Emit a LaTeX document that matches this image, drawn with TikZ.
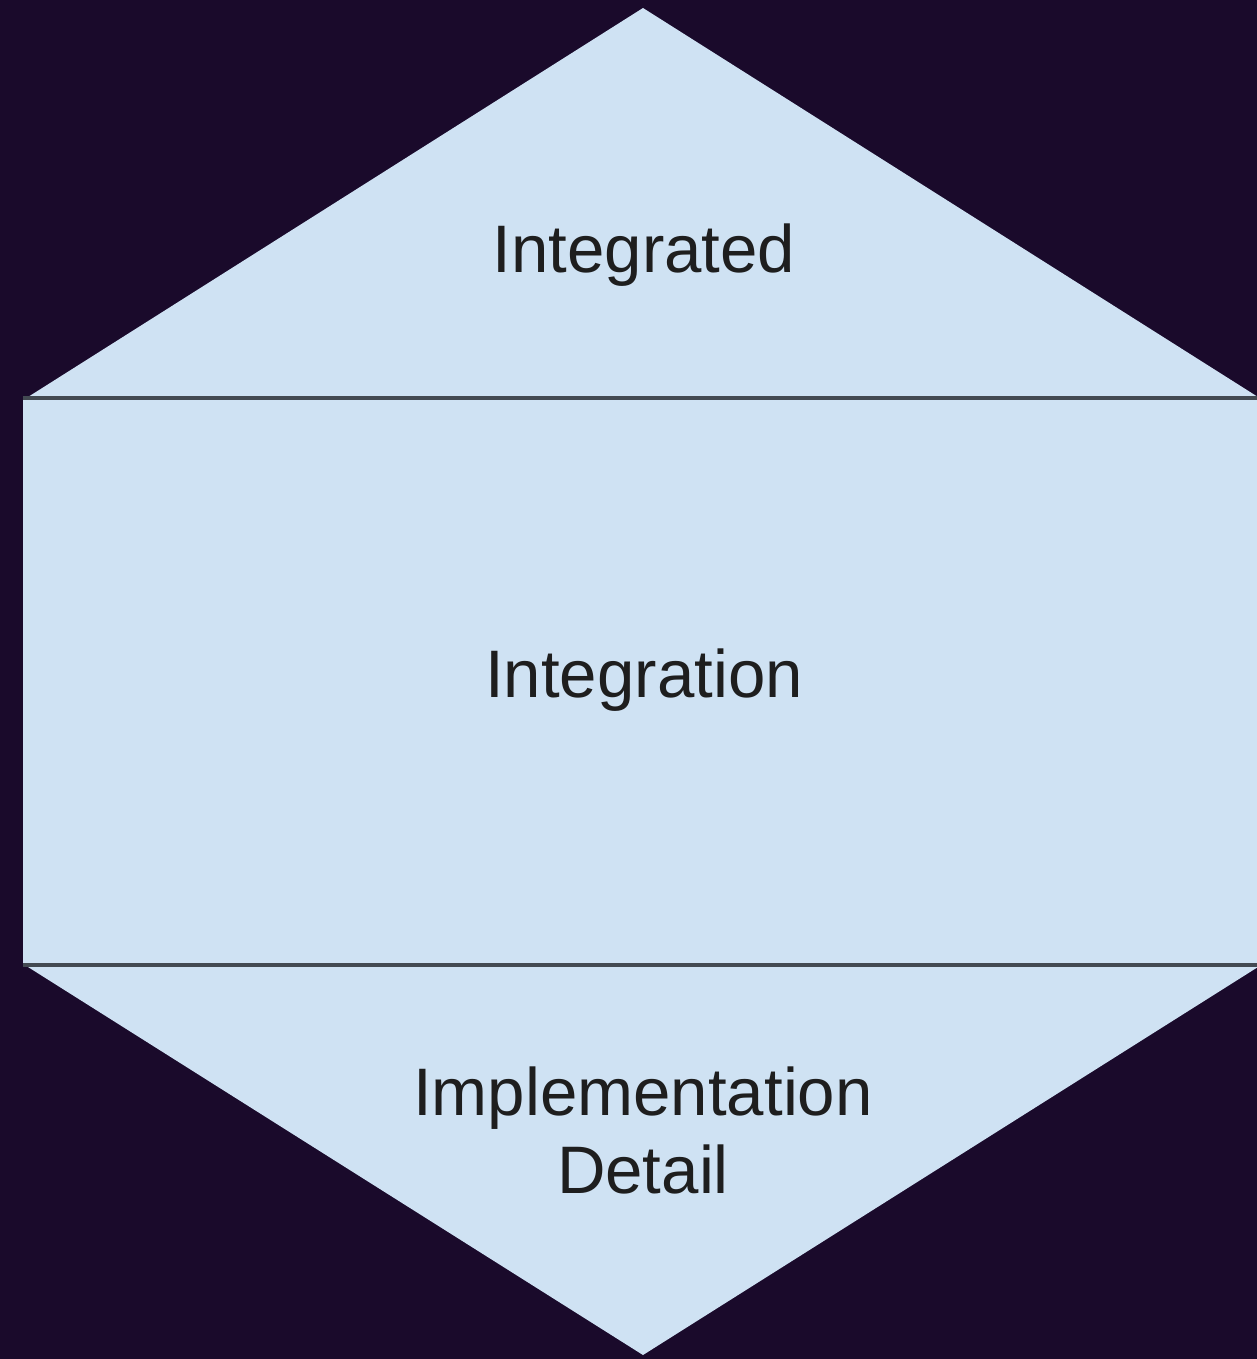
\documentclass[tikz,border=0pt]{standalone}
\usepackage{fontspec}
\setmainfont{Liberation Sans}
\definecolor{bgc}{HTML}{1A0A2B}
\definecolor{fillb}{HTML}{CFE2F3}
\definecolor{edgec}{HTML}{434A52}
\definecolor{txtc}{HTML}{1E1E1E}
\begin{document}
\begin{tikzpicture}[x=0.5pt,y=-0.5pt,
  txt/.style={font=\fontsize{33.6}{39}\selectfont, text=txtc, align=center, inner sep=0pt},
  band/.style={fill=fillb},
  sep/.style={draw=edgec, line width=1.8pt}]
\fill[bgc] (0,0) rectangle (1257,1359);
\useasboundingbox (0,0) rectangle (1257,1359);
\coordinate (topA) at (643,8);
\coordinate (topL) at (28,397);
\coordinate (topR) at (1258,397);
\coordinate (recTL) at (23,398);
\coordinate (recBR) at (1265,965);
\coordinate (recBL) at (23,965);
\coordinate (recTR) at (1265,398);
\coordinate (botL) at (28,967);
\coordinate (botR) at (1258,967);
\coordinate (botA) at (643,1355);
\fill[band] (topA) -- (topR) -- (topL) -- cycle;
\fill[band] (recTL) rectangle (recBR);
\fill[band] (botL) -- (botR) -- (botA) -- cycle;
\draw[sep] (recTL) -- (recTR);
\draw[sep] (recBL) -- (recBR);
\node[txt, anchor=base] (integrated) at (644,272) {Integrated};
\node[txt, anchor=base] (integration) at (644,697) {Integration};
\node[txt, anchor=base] (impl) at (643,1115) {Implementation};
\node[txt, anchor=base] (detail) at (643,1193) {Detail};
\end{tikzpicture}
\end{document}
